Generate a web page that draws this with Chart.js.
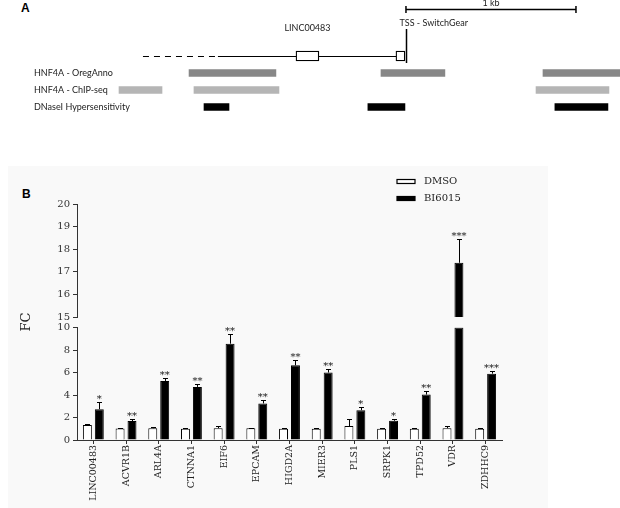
<!DOCTYPE html>
<html>
<head>
<meta charset="utf-8">
<title>LINC00483 / HNF4A targets</title>
<script src="https://cdn.jsdelivr.net/npm/chart.js@4.4.1/dist/chart.umd.min.js"></script>
<style>
  body { margin: 0; width: 620px; height: 508px; position: relative; overflow: hidden; background: #fff; }
  .panel-label { position: absolute; font: bold 12px "Liberation Sans", Arial, sans-serif; line-height: 12px; color: #000; }
  #bgB { position: absolute; left: 8px; top: 166px; width: 540px; height: 342px; background: #f9f9f9; }
  canvas { position: absolute; left: 0; }
  #chartA { top: 0; }
  #chartB { top: 130px; }
</style>
</head>
<body>
<div class="panel-label" style="left:21px; top:2px;">A</div>
<div id="bgB"></div>
<div class="panel-label" style="left:22px; top:188px;">B</div>
<canvas id="chartA" width="620" height="130"></canvas>
<canvas id="chartB" width="620" height="378"></canvas>

<script>
// ---- panel A: region around the TSS, positions in bp relative to the TSS ----
const trackRows = ['gene', 'HNF4A - OregAnno', 'HNF4A - ChIP-seq', 'DNaseI Hypersensitivity'];
const oregAnno = [[-1276, -765], [-147, 229], [806, 1262]];
const chipSeq = [[-1688, -1435], [-1247, -747], [765, 1194]];
const dnase = [[-1188, -1041], [-224, -6], [876, 1188]];
const exons = [[-647, -512], [-59, -6]];
const geneDashed = [-1547, -1106];
const tssPos = 0;
const scaleBar = [0, 1000];

// ---- panel B: fold change, DMSO vs BI6015 ----
const genes = ['LINC00483', 'ACVR1B', 'ARL4A', 'CTNNA1', 'EIF6', 'EPCAM', 'HIGD2A',
  'MIER3', 'PLS1', 'SRPK1', 'TPD52', 'VDR', 'ZDHHC9'];
const dmso = [1.33, 1.03, 1.05, 1.0, 1.05, 1.05, 1.0, 1.0, 1.24, 1.0, 1.0, 1.05, 1.0];
const dmsoErr = [0.07, 0.05, 0.12, 0.06, 0.17, 0.06, 0.04, 0.05, 0.6, 0.06, 0.05, 0.16, 0.04];
const bi6015 = [2.74, 1.68, 5.25, 4.72, 8.56, 3.25, 6.64, 6.0, 2.65, 1.71, 4.04, 17.4, 5.9];
const bi6015Err = [0.68, 0.15, 0.25, 0.24, 0.82, 0.35, 0.5, 0.3, 0.24, 0.18, 0.32, 1.05, 0.23];
const stars = ['*', '**', '**', '**', '**', '**', '**', '**', '*', '*', '**', '***', '***'];
const lowTicks = [0, 10];   // lower segment of the broken axis
const highTicks = [15, 20]; // upper segment

const SANS = 'Lato, "Open Sans", sans-serif';
const SERIF = '"DejaVu Serif", serif';
const AXIS = '#333';

function strokeLine(ctx, x1, y1, x2, y2) {
  ctx.beginPath();
  ctx.moveTo(x1, y1);
  ctx.lineTo(x2, y2);
  ctx.stroke();
}

// gene model, TSS marker and scale bar
const geneModel = {
  id: 'geneModel',
  beforeDatasetsDraw(chart) {
    const { ctx, scales: { x, y } } = chart;
    const gy = Math.round(y.getPixelForValue(0)) + 0.5;
    ctx.save();
    ctx.strokeStyle = '#000';
    ctx.lineWidth = 1.2;
    ctx.setLineDash([6, 5]);
    strokeLine(ctx, x.getPixelForValue(geneDashed[0]), gy, x.getPixelForValue(geneDashed[1]), gy);
    ctx.setLineDash([]);
    strokeLine(ctx, x.getPixelForValue(geneDashed[1]), gy, x.getPixelForValue(exons[exons.length - 1][1]), gy);
    ctx.restore();
  },
  afterDatasetsDraw(chart) {
    const { ctx, scales: { x, y } } = chart;
    const gy = y.getPixelForValue(0);
    const tx = Math.round(x.getPixelForValue(tssPos)) + 0.5;
    ctx.save();
    ctx.strokeStyle = '#000';
    ctx.fillStyle = '#222';
    ctx.lineWidth = 1.5;
    strokeLine(ctx, tx, gy - 27, tx, gy + 7);

    // scale bar
    const s0 = x.getPixelForValue(scaleBar[0]), s1 = x.getPixelForValue(scaleBar[1]);
    strokeLine(ctx, s0, 9.5, s1, 9.5);
    strokeLine(ctx, s0, 6, s0, 13);
    strokeLine(ctx, s1, 6, s1, 13);

    ctx.font = '9px ' + SANS;
    ctx.textBaseline = 'middle';
    ctx.textAlign = 'center';
    ctx.fillText('1 kb', (s0 + s1) / 2, 3);
    ctx.fillText('LINC00483', x.getPixelForValue((exons[0][0] + exons[0][1]) / 2), gy - 28);
    ctx.textAlign = 'left';
    ctx.fillText('TSS - SwitchGear', tx - 7, gy - 33);
    ctx.restore();
  }
};

const rowData = (ranges, row) => ranges.map(r => ({ x: r, y: row }));

new Chart(document.getElementById('chartA'), {
  type: 'bar',
  data: {
    labels: trackRows,
    datasets: [
      { data: rowData(exons, trackRows[0]), backgroundColor: '#fff', borderColor: '#000', borderWidth: 1.3, borderSkipped: false, barThickness: 10 },
      { data: rowData(oregAnno, trackRows[1]), backgroundColor: '#878787', barThickness: 7 },
      { data: rowData(chipSeq, trackRows[2]), backgroundColor: '#b5b5b5', barThickness: 7 },
      { data: rowData(dnase, trackRows[3]), backgroundColor: '#000', barThickness: 7 }
    ]
  },
  options: {
    indexAxis: 'y',
    responsive: false,
    animation: false,
    grouped: false,
    layout: { autoPadding: false, padding: { top: 47.5, bottom: 14.5, left: 0, right: 0 } },
    plugins: { legend: { display: false }, tooltip: { enabled: false } },
    scales: {
      x: { type: 'linear', display: false, min: -2388, max: 1259 },
      y: {
        grid: { display: false },
        border: { display: false },
        ticks: {
          mirror: true,
          padding: 34,
          color: '#222',
          font: { family: SANS, size: 9 },
          callback: (v, i) => (i === 0 ? '' : trackRows[i])
        },
        // labels sit inside the plot, so the axis takes no room
        afterFit: s => { s.width = 0; s.paddingTop = 0; s.paddingBottom = 0; }
      }
    }
  },
  plugins: [geneModel]
});

// error bars, significance stars, legend and the FC label
const annotations = {
  id: 'annotations',
  afterDatasetsDraw(chart) {
    const { ctx } = chart;
    ctx.save();
    ctx.strokeStyle = '#000';
    ctx.lineWidth = 1;
    ctx.fillStyle = '#111';
    ctx.textAlign = 'center';
    ctx.font = '10px ' + SERIF;
    const series = [[dmso, dmsoErr, 0, 2], [bi6015, bi6015Err, 1, 3]];
    series.forEach(([vals, errs, lowIdx, topIdx]) => {
      vals.forEach((v, i) => {
        const onTop = v > highTicks[0];
        const bar = chart.getDatasetMeta(onTop ? topIdx : lowIdx).data[i];
        const scale = chart.scales[onTop ? 'yTop' : 'y'];
        const top = Math.round(scale.getPixelForValue(v + errs[i])) + 0.5;
        const bx = Math.round(bar.x) + 0.5;
        strokeLine(ctx, bx, bar.y, bx, top);
        strokeLine(ctx, bx - 2.5, top, bx + 2.5, top);
        if (lowIdx === 1) ctx.fillText(stars[i], bar.x, top - 1);
      });
    });

    // legend
    const items = chart.data.datasets.slice(0, 2);
    items.forEach((ds, k) => {
      const ly = 49.5 + k * 17;
      ctx.fillStyle = ds.backgroundColor;
      ctx.fillRect(397, ly, 18, 4);
      ctx.strokeStyle = ds.borderColor;
      ctx.lineWidth = 1.2;
      ctx.strokeRect(397, ly, 18, 4);
      ctx.fillStyle = '#222';
      ctx.textAlign = 'left';
      ctx.textBaseline = 'middle';
      ctx.font = '10px ' + SERIF;
      ctx.fillText(ds.label, 424, ly + 2);
    });

    // y title
    ctx.translate(27, 192);
    ctx.rotate(-Math.PI / 2);
    ctx.textAlign = 'center';
    ctx.textBaseline = 'middle';
    ctx.font = '13px ' + SERIF;
    ctx.fillStyle = '#222';
    ctx.fillText('FC', 0, 0);
    ctx.restore();
  }
};

const barStyle = (label, fill, axis, stack, data) => ({
  label: label,
  data: data,
  yAxisID: axis,
  stack: stack,
  backgroundColor: fill,
  borderColor: '#000',
  borderWidth: 1,
  categoryPercentage: 0.73,
  barPercentage: 0.75
});

const yScale = (min, max, step, stackWeight, weight) => ({
  position: 'left',
  stack: 'fc',
  stackWeight: stackWeight,
  weight: weight,
  stacked: false,
  min: min,
  max: max,
  grid: { display: true, drawOnChartArea: false, tickLength: 4, color: AXIS },
  border: { color: AXIS, width: 1 },
  ticks: { stepSize: step, autoSkip: false, padding: 3, color: '#333', font: { family: SERIF, size: 10 } },
  afterFit: s => { s.width = 77; }
});

new Chart(document.getElementById('chartB'), {
  type: 'bar',
  data: {
    labels: genes,
    datasets: [
      barStyle('DMSO', '#fff', 'y', 'dmso', dmso.map(v => Math.min(v, lowTicks[1]))),
      barStyle('BI6015', '#000', 'y', 'bi', bi6015.map(v => Math.min(v, lowTicks[1]))),
      barStyle('DMSO', '#fff', 'yTop', 'dmso', dmso.map(v => (v > highTicks[0] ? v : null))),
      barStyle('BI6015', '#000', 'yTop', 'bi', bi6015.map(v => (v > highTicks[0] ? v : null)))
    ]
  },
  options: {
    responsive: false,
    animation: false,
    layout: { autoPadding: false, padding: { top: 74, bottom: 0, left: 0, right: 118 } },
    plugins: { legend: { display: false }, tooltip: { enabled: false } },
    scales: {
      x: {
        grid: { display: true, drawOnChartArea: false, offset: false, tickLength: 4, color: AXIS },
        border: { color: AXIS, width: 1 },
        ticks: { minRotation: 90, maxRotation: 90, autoSkip: false, padding: 1, color: '#222', font: { family: SERIF, size: 9.5 } },
        afterFit: s => { s.height = 68; }
      },
      yTop: yScale(highTicks[0], highTicks[1], 1, 113, 3),
      yGap: { position: 'left', stack: 'fc', stackWeight: 10.5, weight: 2, display: false, afterFit: s => { s.width = 77; } },
      y: yScale(lowTicks[0], lowTicks[1], 2, 112.5, 1)
    }
  },
  plugins: [annotations]
});
</script>
</body>
</html>
